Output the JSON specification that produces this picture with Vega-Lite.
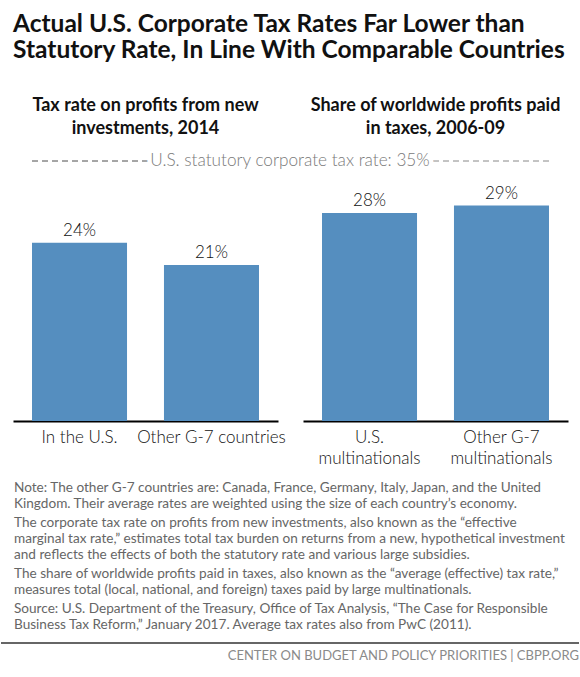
{
  "$schema": "https://vega.github.io/schema/vega-lite/v6.json",
  "background": "white",
  "padding": {"top": 12, "left": 0, "right": 0, "bottom": 0},
  "title": {
    "text": ["Actual U.S. Corporate Tax Rates Far Lower than", "Statutory Rate, In Line With Comparable Countries"],
    "anchor": "start",
    "dx": 13,
    "font": "Lato",
    "fontSize": 24.5,
    "fontWeight": 700,
    "lineHeight": 26,
    "color": "#111111",
    "offset": 33
  },
  "config": {
    "view": {"stroke": null},
    "font": "Lato",
    "axisY": {"labels": false, "ticks": false, "domain": false, "grid": false, "title": null, "minExtent": 13, "maxExtent": 13},
    "title": {"font": "Lato"}
  },
  "datasets": {
    "rate": [
      {"group": "new", "label": "In the U.S.", "rate": 0.24},
      {"group": "new", "label": "Other G-7 countries", "rate": 0.21}
    ],
    "share": [
      {"group": "worldwide", "label": "U.S. multinationals", "rate": 0.28},
      {"group": "worldwide", "label": "Other G-7 multinationals", "rate": 0.29}
    ],
    "statutory": [
      {"note": "U.S. statutory corporate tax rate: 35%", "rate": 0.35}
    ]
  },
  "vconcat": [
    {
      "vconcat": [
        {
          "bounds": "flush",
          "hconcat": [
            {
              "width": 265,
              "height": 260,
              "title": {"text": ["Tax rate on profits from new", "investments, 2014"], "fontSize": 18, "fontWeight": 700, "lineHeight": 23, "color": "#111111", "offset": 23},
              "data": {"name": "rate"},
              "encoding": {
                "x": {
                  "field": "label",
                  "type": "nominal",
                  "sort": null,
                  "scale": {"paddingInner": 0.28, "paddingOuter": 0.144},
                  "title": null,
                  "axis": {"labelAngle": 0, "labelFontSize": 17, "labelFontWeight": 300, "labelColor": "#111111", "labelLimit": 300, "labelPadding": 8, "labelLineHeight": 21, "ticks": false, "domainColor": "#000000", "domainWidth": 2}
                },
                "y": {"field": "rate", "type": "quantitative", "scale": {"domain": [0, 0.35]}}
              },
              "layer": [
                {"mark": {"type": "bar", "color": "#558EBF"}},
                {
                  "mark": {"type": "text", "baseline": "bottom", "dy": -3, "fontSize": 17, "fontWeight": 300, "color": "#111111"},
                  "encoding": {"text": {"field": "rate", "format": ".0%"}}
                },
                {
                  "mark": {"type": "rule", "color": "#888888", "strokeWidth": 1, "strokeDash": [6, 4]},
                  "encoding": {
                    "x": {"datum": "In the U.S.", "bandPosition": 0},
                    "x2": {"value": "width"},
                    "y": {"datum": 0.35}
                  }
                }
              ]
            },
            {
              "width": 265,
              "height": 260,
              "title": {"text": ["Share of worldwide profits paid", "in taxes, 2006-09"], "frame": "group", "fontSize": 18, "fontWeight": 700, "lineHeight": 23, "color": "#111111", "offset": 14},
              "layer": [
                {
                  "data": {"name": "share"},
                  "mark": {"type": "bar", "color": "#558EBF"},
                  "encoding": {
                    "x": {
                      "field": "label",
                      "type": "nominal",
                      "sort": null,
                      "scale": {"paddingInner": 0.28, "paddingOuter": 0.144},
                      "title": null,
                      "axis": {
                        "labelAngle": 0,
                        "labelFontSize": 17,
                        "labelFontWeight": 300,
                        "labelColor": "#111111",
                        "labelLimit": 300,
                        "labelPadding": 8,
                        "labelLineHeight": 21,
                        "ticks": false,
                        "domainColor": "#000000",
                        "domainWidth": 2,
                        "labelExpr": "[slice(datum.label, 0, lastindexof(datum.label, ' ')), slice(datum.label, lastindexof(datum.label, ' ') + 1)]"
                      }
                    },
                    "y": {"field": "rate", "type": "quantitative", "scale": {"domain": [0, 0.35]}, "axis": null}
                  }
                },
                {
                  "data": {"name": "share"},
                  "mark": {"type": "text", "baseline": "bottom", "dy": -3, "fontSize": 17, "fontWeight": 300, "color": "#111111"},
                  "encoding": {
                    "x": {"field": "label", "type": "nominal", "sort": null},
                    "y": {"field": "rate", "type": "quantitative"},
                    "text": {"field": "rate", "format": ".0%"}
                  }
                },
                {
                  "data": {"name": "statutory"},
                  "mark": {"type": "rule", "color": "#888888", "strokeWidth": 1, "strokeDash": [6, 4]},
                  "encoding": {
                    "x": {"datum": "Other G-7 multinationals", "bandPosition": 1},
                    "x2": {"value": 0},
                    "y": {"field": "rate", "type": "quantitative"}
                  }
                },
                {
                  "data": {"name": "statutory"},
                  "mark": {"type": "text", "fontSize": 17.2, "fontWeight": 300, "stroke": "white", "strokeWidth": 9, "dx": -32, "baseline": "middle"},
                  "encoding": {
                    "x": {"datum": "U.S. multinationals", "bandPosition": 0},
                    "y": {"field": "rate", "type": "quantitative"},
                    "text": {"field": "note", "type": "nominal"}
                  }
                },
                {
                  "data": {"name": "statutory"},
                  "mark": {"type": "text", "fontSize": 17.2, "fontWeight": 300, "color": "#7a7a7a", "dx": -32, "baseline": "middle"},
                  "encoding": {
                    "x": {"datum": "U.S. multinationals", "bandPosition": 0},
                    "y": {"field": "rate", "type": "quantitative"},
                    "text": {"field": "note", "type": "nominal"}
                  }
                }
              ]
            }
          ],
          "spacing": 25
        },
        {
          "vconcat": [
            {
              "width": 555,
              "height": 32,
              "data": {"values": [
                {"line": 1, "text": "Note: The other G-7 countries are: Canada, France, Germany, Italy, Japan, and the United"},
                {"line": 2, "text": "Kingdom. Their average rates are weighted using the size of each country\u2019s economy."}
              ]},
              "mark": {"type": "text", "align": "left", "fontSize": 13.6, "color": "#666666"},
              "encoding": {"x": {"value": 1}, "y": {"field": "line", "type": "ordinal"}, "text": {"field": "text"}}
            },
            {
              "width": 555,
              "height": 48,
              "data": {"values": [
                {"line": 1, "text": "The corporate tax rate on profits from new investments, also known as the \u201ceffective"},
                {"line": 2, "text": "marginal tax rate,\u201d estimates total tax burden on returns from a new, hypothetical investment"},
                {"line": 3, "text": "and reflects the effects of both the statutory rate and various large subsidies."}
              ]},
              "mark": {"type": "text", "align": "left", "fontSize": 13.6, "color": "#666666"},
              "encoding": {"x": {"value": 1}, "y": {"field": "line", "type": "ordinal"}, "text": {"field": "text"}}
            },
            {
              "width": 555,
              "height": 32,
              "data": {"values": [
                {"line": 1, "text": "The share of worldwide profits paid in taxes, also known as the \u201caverage (effective) tax rate,\u201d"},
                {"line": 2, "text": "measures total (local, national, and foreign) taxes paid by large multinationals."}
              ]},
              "mark": {"type": "text", "align": "left", "fontSize": 13.6, "color": "#666666"},
              "encoding": {"x": {"value": 1}, "y": {"field": "line", "type": "ordinal"}, "text": {"field": "text"}}
            },
            {
              "width": 555,
              "height": 32,
              "data": {"values": [
                {"line": 1, "text": "Source: U.S. Department of the Treasury, Office of Tax Analysis, \u201cThe Case for Responsible"},
                {"line": 2, "text": "Business Tax Reform,\u201d January 2017. Average tax rates also from PwC (2011)."}
              ]},
              "mark": {"type": "text", "align": "left", "fontSize": 13.6, "color": "#666666"},
              "encoding": {"x": {"value": 1}, "y": {"field": "line", "type": "ordinal"}, "text": {"field": "text"}}
            }
          ],
          "spacing": 3
        }
      ],
      "spacing": 14
    },
    {
      "width": 566,
      "height": 26,
      "data": {"values": [{"text": "CENTER ON BUDGET AND POLICY PRIORITIES | CBPP.ORG"}]},
      "layer": [
        {
          "mark": {"type": "rule", "color": "#666666", "strokeWidth": 2},
          "encoding": {"x": {"value": -12}, "x2": {"value": "width"}, "y": {"value": 0}}
        },
        {
          "mark": {"type": "text", "align": "right", "fontSize": 13, "color": "#8a8a8a"},
          "encoding": {"x": {"value": "width"}, "text": {"field": "text"}}
        }
      ]
    }
  ],
  "spacing": 9
}
